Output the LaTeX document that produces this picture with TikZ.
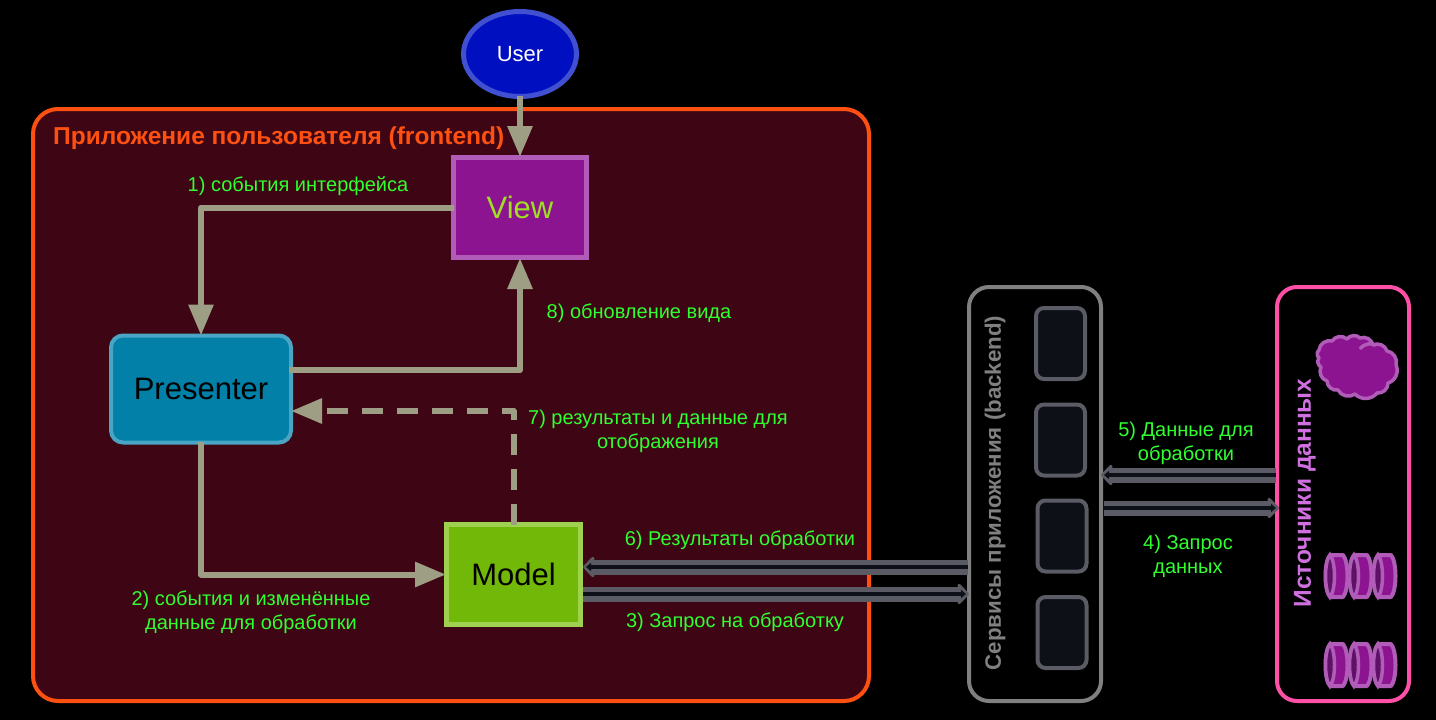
\documentclass[tikz,border=0pt]{standalone}
\usepackage{fontspec}
\setmainfont{Liberation Sans}
\usetikzlibrary{arrows.meta,shapes.geometric,shapes.symbols}
\definecolor{conn}{HTML}{9E9E85}
\definecolor{lab}{HTML}{30FF30}
\definecolor{hgray}{HTML}{5A5B64}
\definecolor{hdark}{HTML}{0E1018}
\definecolor{purp}{HTML}{8C1490}
\definecolor{purpl}{HTML}{B05CB8}
\definecolor{purpd}{HTML}{5E1266}
\definecolor{fe}{HTML}{FE5010}
\definecolor{febg}{HTML}{3E0614}
\definecolor{bord}{HTML}{808080}
\definecolor{ds}{HTML}{FF50A8}
\definecolor{dstitle}{HTML}{D070E0}
\definecolor{ubord}{HTML}{4050D0}
\definecolor{ufill}{HTML}{0010C0}
\definecolor{viewtxt}{HTML}{A0E020}
\definecolor{pbord}{HTML}{4AA5C5}
\definecolor{pfill}{HTML}{0280A8}
\definecolor{mbord}{HTML}{A0D050}
\definecolor{mfill}{HTML}{72B808}
\tikzset{
  x=1pt,y=-1pt,
  box/.style={draw,line width=5pt,inner sep=0pt},
  cont/.style={draw,line width=4pt,inner sep=0pt},
  connl/.style={draw=conn,line width=6pt,line join=round,shorten <=-3pt,shorten >=-2pt,-{Triangle[length=31pt,width=24pt]}},
  lbl/.style={text=lab,align=center,inner sep=0pt,font=\fontsize{20}{24}\selectfont},
  hout/.style={draw=hgray,line width=15pt,-{Triangle[length=12pt,width=24pt,round]}},
  hin/.style={draw=hdark,line width=4pt,shorten >=3pt,-{Triangle[length=5pt,width=8pt]}},
  srv/.style={draw=hgray,fill=hdark,line width=4pt,rounded corners=8pt,inner sep=0pt,minimum width=49pt,minimum height=71pt},
  ttl/.style={inner sep=0pt,font=\bfseries\fontsize{24.5}{28}\selectfont},
  dbs/.style={draw=purpl,fill=purp,line width=4pt,line join=round},
  cloudpart/.style={draw=purpl,line width=3.5pt,line join=round}
}
\newcommand{\hollow}[2]{%
  \draw[hout] (#1) -- (#2);
  \draw[hin] (#1) -- (#2);}
\newcommand{\dbcyl}[2]{%
  \filldraw[dbs] (#1+5,#2+1) -- (#1+18,#2+1) .. controls (#1+24,#2+8) and (#1+24,#2+36) .. (#1+18,#2+43) -- (#1+5,#2+43)
     .. controls (#1-1,#2+36) and (#1-1,#2+8) .. (#1+5,#2+1) -- cycle;
  \fill[purpd] (#1+5,#2+1) .. controls (#1+11,#2+8) and (#1+11,#2+36) .. (#1+5,#2+43)
     .. controls (#1-1,#2+36) and (#1-1,#2+8) .. (#1+5,#2+1) -- cycle;
  \draw[purpl,line width=3.5pt] (#1+5,#2+1) .. controls (#1+11,#2+8) and (#1+11,#2+36) .. (#1+5,#2+43)
     .. controls (#1-1,#2+36) and (#1-1,#2+8) .. (#1+5,#2+1) -- cycle;
}
\begin{document}
\begin{tikzpicture}
\useasboundingbox (0,0) rectangle (1436,720);
\fill[black] (0,0) rectangle (1436,720);
% containers
\node[cont,draw=fe,fill=febg,rounded corners=25pt,minimum width=836pt,minimum height=592pt] (front) at (451,405) {};
\node[cont,draw=bord,fill=black,rounded corners=20pt,minimum width=132pt,minimum height=414pt] (back) at (1035,494) {};
\node[cont,draw=ds,fill=black,rounded corners=20pt,minimum width=132pt,minimum height=414pt] (data) at (1343,494) {};
\node[ttl,text=fe,anchor=west] (fronttitle) at (53,138) {Приложение пользователя (frontend)};
\node[ttl,text=bord,rotate=90,font=\bfseries\fontsize{22.3}{26}\selectfont] (backtitle) at (995,493) {Сервисы приложения (backend)};
\node[ttl,text=dstitle,rotate=90] (datatitle) at (1305,493) {Источники данных};
% main nodes
\node[ellipse,draw=ubord,fill=ufill,line width=5pt,inner sep=0pt,minimum width=113pt,minimum height=85pt,text=white,font=\fontsize{22}{26}\selectfont] (user) at (520,54) {User};
\node[box,draw=purpl,fill=purp,minimum width=133pt,minimum height=100pt,text=viewtxt,font=\fontsize{31}{34}\selectfont] (view) at (520,207.5) {View};
\node[cont,draw=pbord,fill=pfill,rounded corners=12pt,minimum width=180pt,minimum height=107pt,text=black,font=\fontsize{31}{34}\selectfont] (pres) at (201,389) {\raisebox{-1pt}{Presenter}};
\node[box,draw=mbord,fill=mfill,minimum width=134pt,minimum height=100pt,text=black,font=\fontsize{31}{34}\selectfont] (model) at (513.5,574.5) {\raisebox{-1pt}{Model}};
% backend services
\node[srv] (s1) at (1060.5,343.5) {};
\node[srv] (s2) at (1060.5,440) {};
\node[srv] (s3) at (1062,536) {};
\node[srv] (s4) at (1062,632.5) {};
% sources
\filldraw[cloudpart,fill=purp] (1319,350) to[bend left=50] (1332,341) to[bend left=50] (1347,339) to[bend left=50] (1360,338) to[bend left=50] (1373,345) to[bend left=50] (1387,351) to[bend left=50] (1396,365) to[bend left=50] (1388,383) to[bend left=50] (1377,393) to[bend left=50] (1355,394) to[bend left=50] (1338,390) to[bend left=50] (1327,381) to[bend left=50] (1321,367) to[bend left=50] (1319,358) to[bend left=50] cycle;
\draw[cloudpart] (1360,349) .. controls (1364,343) and (1372,343) .. (1376,345);
\dbcyl{1373}{554}\dbcyl{1349}{554}\dbcyl{1325}{554}
\dbcyl{1373}{643}\dbcyl{1349}{643}\dbcyl{1325}{643}
% connectors
\coordinate (pvs) at (292,370);
\coordinate (pin) at (293,411);
\coordinate (m6) at (583,567); \coordinate (b6) at (968,567);
\coordinate (m3) at (583,594); \coordinate (b3) at (969,594);
\coordinate (b5) at (1101,475); \coordinate (d5) at (1276,475);
\coordinate (b4) at (1104,508); \coordinate (d4) at (1279,508);
\draw[connl] (user.south) -- (view.north);
\draw[connl] (view.west) -| (pres.north);
\draw[connl] (pvs) -| (view.south);
\draw[connl,dash pattern=on 21pt off 14pt] (model.north) |- (pin);
\draw[connl] (pres.south) |- (model.west);
\hollow{b6}{m6}
\hollow{m3}{b3}
\hollow{d5}{b5}
\hollow{b4}{d4}
% labels
\node[lbl] (l1) at (298,186) {1) события интерфейса};
\node[lbl] (l8) at (639,313) {8) обновление вида};
\node[lbl] (l7) at (658,431) {7) результаты и данные для\\отображения};
\node[lbl] (l2) at (251,612) {2) события и изменённые\\данные для обработки};
\node[lbl] (l6) at (740,540) {6) Результаты обработки};
\node[lbl] (l3) at (735,622) {3) Запрос на обработку};
\node[lbl] (l5) at (1186,443) {5) Данные для\\обработки};
\node[lbl] (l4) at (1188,556) {4) Запрос\\данных};
\end{tikzpicture}
\end{document}
